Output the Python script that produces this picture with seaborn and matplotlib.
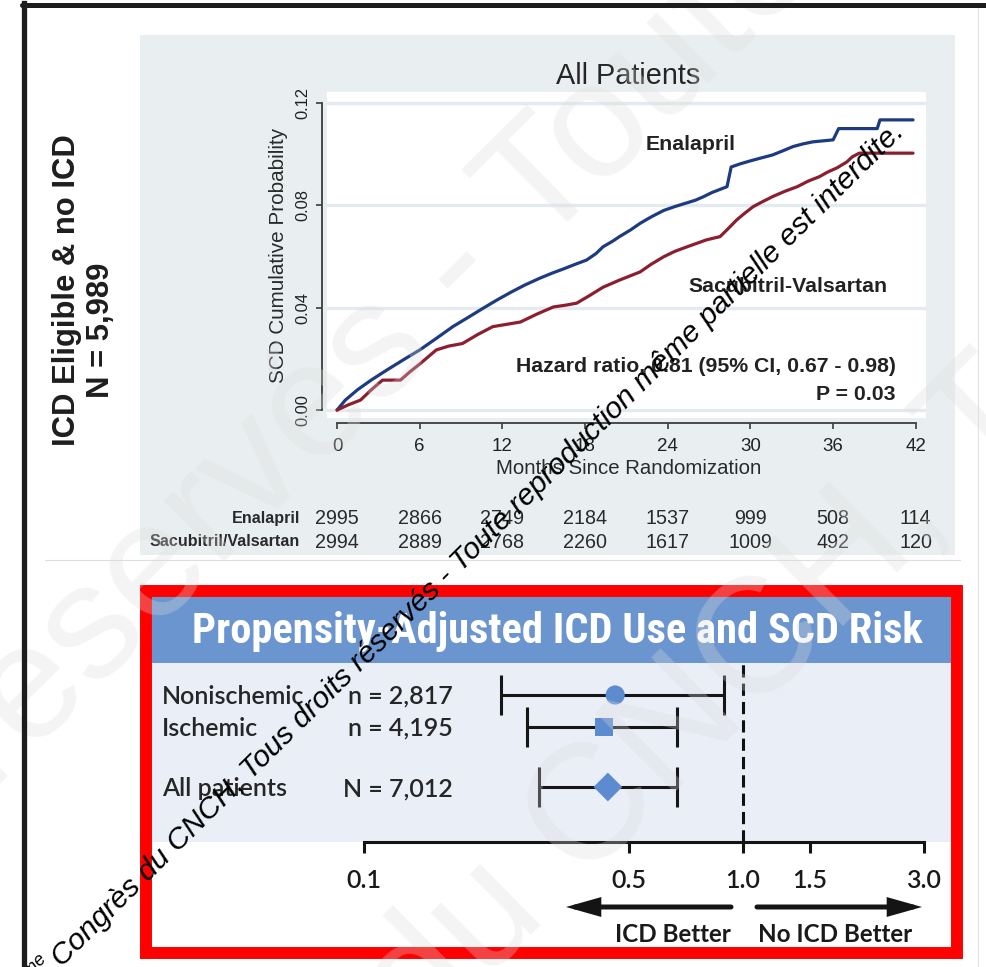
import numpy as np
import pandas as pd
import matplotlib
matplotlib.use("Agg")
import matplotlib.pyplot as plt
import matplotlib.transforms as mtransforms
from matplotlib.patches import Rectangle, FancyArrowPatch
from matplotlib.lines import Line2D
from matplotlib.ticker import NullLocator
from matplotlib import font_manager as fm
import seaborn as sns

# ---------------------------------------------------------------- data
# Kaplan-Meier cumulative probability of sudden cardiac death
months_enal = [0, 0.6, 1.5, 2.5, 3.6, 4.8, 6.0, 7.2, 8.4, 9.6, 10.6, 11.6, 12.6,
               13.6, 14.7, 15.6, 16.5, 17.3, 18.1, 18.8, 19.3, 20.0, 20.5, 21.3,
               22.0, 22.8, 23.7, 24.5, 25.4, 26.0, 26.6, 27.2, 28.3, 28.6, 29.3,
               30.2, 30.9, 31.6, 32.3, 33.1, 33.8, 34.5, 36.0, 36.4, 39.2, 39.4, 41.8]
cumprob_enal = [0, 0.0039, 0.0080, 0.0118, 0.0156, 0.0196, 0.0235, 0.0280, 0.0326,
                0.0365, 0.0398, 0.0430, 0.0460, 0.0488, 0.0515, 0.0535, 0.0553,
                0.0570, 0.0586, 0.0612, 0.0638, 0.0660, 0.0678, 0.0704, 0.0730,
                0.0755, 0.0780, 0.0795, 0.0810, 0.0820, 0.0834, 0.0850, 0.0873,
                0.0950, 0.0963, 0.0977, 0.0987, 0.0997, 0.1012, 0.1030, 0.1040,
                0.1048, 0.1056, 0.1100, 0.1100, 0.1134, 0.1134]

months_sv = [0, 0.8, 1.7, 2.5, 3.3, 4.6, 5.3, 6.0, 7.2, 8.1, 9.1, 10.2, 11.3, 12.3,
             13.3, 14.5, 15.7, 16.6, 17.4, 18.4, 19.3, 20.5, 21.3, 22.0, 22.8,
             23.7, 24.5, 25.4, 26.8, 27.8, 28.4, 29.0, 29.6, 30.2, 30.9, 31.6,
             32.5, 33.4, 34.2, 35.0, 35.6, 36.3, 37.0, 37.4, 37.9, 41.8]
cumprob_sv = [0, 0.0020, 0.0039, 0.0080, 0.0117, 0.0117, 0.0150, 0.0180, 0.0235,
              0.0250, 0.0260, 0.0295, 0.0326, 0.0335, 0.0344, 0.0375, 0.0403,
              0.0410, 0.0418, 0.0450, 0.0480, 0.0508, 0.0525, 0.0540, 0.0570,
              0.0599, 0.0620, 0.0638, 0.0665, 0.0678, 0.0710, 0.0743, 0.0770,
              0.0795, 0.0815, 0.0834, 0.0855, 0.0873, 0.0895, 0.0912, 0.0930,
              0.0947, 0.0970, 0.0990, 0.1004, 0.1004]

arm_names = ["Enalapril", "Sacubitril-Valsartan"]
risk_row_names = ["Enalapril", "Sacubitril/Valsartan"]
risk_months = [0, 6, 12, 18, 24, 30, 36, 42]
risk_enal = [2995, 2866, 2749, 2184, 1537, 999, 508, 114]
risk_sv = [2994, 2889, 2768, 2260, 1617, 1009, 492, 120]
km_yticks = [0.00, 0.04, 0.08, 0.12]

# propensity-adjusted hazard ratios, ICD vs no ICD
groups = ["Nonischemic", "Ischemic", "All patients"]
group_n = ["n = 2,817", "n = 4,195", "N = 7,012"]
hr = [0.46, 0.43, 0.44]
hr_lo = [0.23, 0.27, 0.29]
hr_hi = [0.89, 0.67, 0.67]
forest_ticks = [0.1, 0.5, 1.0, 1.5, 3.0]
forest_ticklabels = ["0.1", "0.5", "1.0", "1.5", "3.0"]

# ---------------------------------------------------------------- fonts
_avail = {f.name for f in fm.fontManager.ttflist}


def pick(*names):
    for n in names:
        if n in _avail:
            return n
    return "DejaVu Sans"


ARIAL = pick("Liberation Sans", "Arimo")
HUMAN = pick("Lato", "Open Sans", "Noto Sans")


def condensed_bold():
    """A bold, narrow sans face for the banner, if one is installed."""
    for fam in ("Liberation Sans Narrow", "Roboto Condensed", "Open Sans Condensed",
                "Noto Sans Condensed", "DejaVu Sans Condensed"):
        if fam in _avail:
            return fm.FontProperties(family=fam, weight="bold")
    best = None
    for f in fm.fontManager.ttflist:
        if f.style != "normal" or f.stretch in ("normal", 500):
            continue
        if f.name not in ("Noto Sans", "Open Sans", "DejaVu Sans", "Roboto", "Lato",
                          "Inter", "Liberation Sans"):
            continue
        w = f.weight if isinstance(f.weight, int) else {"bold": 700}.get(f.weight, 400)
        score = abs(w - 700)
        if best is None or score < best[0]:
            best = (score, f.fname)
    if best is not None:
        return fm.FontProperties(fname=best[1])
    return fm.FontProperties(family=ARIAL, weight="bold")


BANNER = condensed_bold()

sns.set_theme(style="white")
plt.rcParams["font.family"] = [ARIAL, "DejaVu Sans"]

# ---------------------------------------------------------------- canvas
W, H = 986, 967
fig = plt.figure(figsize=(W / 100, H / 100), dpi=100)
fig.patch.set_facecolor("white")
renderer = fig.canvas.get_renderer()


def X(px):
    return px / W


def Y(py):
    return 1 - py / H


def text_width(s, size, **kw):
    t = fig.text(0, 0, s, fontsize=size, **kw)
    w = t.get_window_extent(renderer=renderer).width
    t.remove()
    return w


def fit_size(s, width_px, **kw):
    if "fontproperties" in kw:
        fp = kw.pop("fontproperties").copy()
        fp.set_size(20)
        t = fig.text(0, 0, s, fontproperties=fp, **kw)
        w = t.get_window_extent(renderer=renderer).width
        t.remove()
        return 20.0 * width_px / w
    return 20.0 * width_px / text_width(s, 20, **kw)


def put(px, py, s, **kw):
    return fig.text(X(px), Y(py), s, **kw)


# page frame
fig.add_artist(Line2D([X(23.5), X(23.5)], [Y(970), Y(2.5)], lw=3.8, color="#1c1c1c",
                      transform=fig.transFigure, zorder=40, solid_capstyle="projecting"))
fig.add_artist(Line2D([X(21.5), X(990)], [Y(4.8), Y(4.8)], lw=3.6, color="#1c1c1c",
                      transform=fig.transFigure, zorder=40))
fig.add_artist(Line2D([X(978), X(978)], [Y(8), Y(967)], lw=0.8, color="#e2e2e2",
                      transform=fig.transFigure, zorder=-6))
fig.add_artist(Line2D([X(45), X(960)], [Y(560), Y(560)], lw=0.8, color="#dedede",
                      transform=fig.transFigure, zorder=-6))

# ---------------------------------------------------------------- KM panel
fig.add_artist(Rectangle((X(140), Y(555)), (955 - 140) / W, (555 - 35) / H,
                         transform=fig.transFigure, facecolor="#e9eff1",
                         edgecolor="none", zorder=-5))

ax1 = fig.add_axes([X(327), Y(418), (926 - 327) / W, (418 - 92) / H])
ax1.set_facecolor("white")
km = pd.concat([
    pd.DataFrame({"month": months_enal, "prob": cumprob_enal, "arm": arm_names[0]}),
    pd.DataFrame({"month": months_sv, "prob": cumprob_sv, "arm": arm_names[1]}),
], ignore_index=True)
arm_colors = {arm_names[0]: "#1d3b80", arm_names[1]: "#8c1f2f"}
sns.lineplot(data=km, x="month", y="prob", hue="arm", palette=arm_colors,
             estimator=None, sort=False, linewidth=2.3, legend=False, ax=ax1,
             zorder=3)
ax1.set_xlim(-0.73, 42.74)
ax1.set_ylim(-0.0031, 0.1243)
ax1.set_xticks(risk_months)
ax1.set_yticks(km_yticks)
ax1.set_xlabel("")
ax1.set_ylabel("")
ax1.yaxis.grid(True, color="#e4ebee", linewidth=2.4)
ax1.xaxis.grid(False)
ax1.set_axisbelow(True)
sns.despine(ax=ax1, offset=3.6, trim=True)
for s in ("left", "bottom"):
    ax1.spines[s].set_color("#3c3c3c")
    ax1.spines[s].set_linewidth(1.3)

ax1.tick_params(axis="both", which="major", bottom=True, left=True, length=4.5,
                width=1.2, color="#3c3c3c", labelcolor="#222222")
ax1.tick_params(axis="x", pad=6, labelsize=13.5)
ax1.tick_params(axis="y", pad=4, labelsize=fit_size("0.12", 32))
ax1.set_yticks(km_yticks)
ax1.set_yticklabels([f"{v:.2f}" for v in km_yticks], rotation=90, va="center")

put(628, 73, "All Patients", ha="center", va="center_baseline",
    fontsize=fit_size("All Patients", 144), color="#262626")
ylab = "SCD Cumulative Probability"
put(276, 255, ylab, rotation=90, rotation_mode="anchor", ha="center",
    va="center_baseline", fontsize=fit_size(ylab, 254), color="#2a2a2a")
xlab = "Months Since Randomization"
put(629, 467, xlab, ha="center", va="center_baseline",
    fontsize=fit_size(xlab, 264), color="#2a2a2a")

bold_fs = fit_size("Hazard ratio, 0.81 (95% CI, 0.67 - 0.98)", 380, weight="bold")
put(691, 143, arm_names[0], ha="center", va="center_baseline", fontsize=bold_fs,
    weight="bold", color="#222222")
put(788, 285, arm_names[1], ha="center", va="center_baseline", fontsize=bold_fs,
    weight="bold", color="#222222")
put(896, 365, "Hazard ratio, 0.81 (95% CI, 0.67 - 0.98)", ha="right",
    va="center_baseline", fontsize=bold_fs, weight="bold", color="#222222")
put(896, 393, "P = 0.03", ha="right", va="center_baseline", fontsize=bold_fs,
    weight="bold", color="#222222")

# numbers at risk, aligned with the month ticks
risk_fs = fit_size("2994", 44)
lab_fs = fit_size(risk_row_names[1], 149, weight="bold")
blend = mtransforms.blended_transform_factory(ax1.transData, fig.transFigure)
for row_y, name, counts in ((517, risk_row_names[0], risk_enal),
                            (540, risk_row_names[1], risk_sv)):
    put(300, row_y, name, ha="right", va="center_baseline", fontsize=lab_fs,
        weight="bold", color="#2a2a2a")
    for m, c in zip(risk_months, counts):
        ax1.text(m, Y(row_y), f"{c}", transform=blend, ha="center",
                 va="center_baseline", fontsize=risk_fs, color="#2a2a2a", clip_on=False)

# side label
side_fs = fit_size("ICD Eligible & no ICD", 311, weight="bold")
put(64, 290, "ICD Eligible & no ICD", rotation=90, rotation_mode="anchor",
    ha="center", va="center_baseline", fontsize=side_fs, weight="bold", color="#1e1e1e")
put(97, 330, "N = 5,989", rotation=90, rotation_mode="anchor",
    ha="center", va="center_baseline", fontsize=side_fs, weight="bold", color="#1e1e1e")

# ---------------------------------------------------------------- forest panel
fig.add_artist(Rectangle((X(152), Y(663)), (951 - 152) / W, (663 - 597) / H,
                         transform=fig.transFigure, facecolor="#6b95cf",
                         edgecolor="none", zorder=2))
head = "Propensity-Adjusted ICD Use and SCD Risk"
banner_fp = BANNER.copy()
banner_fp.set_size(fit_size(head, 729, fontproperties=BANNER))
put(557, 627, head, ha="center", va="center_baseline", fontproperties=banner_fp,
    color="white", zorder=5)

ax2 = fig.add_axes([X(152), Y(842), (951 - 152) / W, (842 - 663) / H])
ax2.set_facecolor("#e9eef7")
ax2.set_xscale("log")
row_pos = [0.0, 1.0, 2.875]
ax2.axvline(1.0, color="#111111", lw=2.2, ls=(0, (4, 2)), zorder=2)
ax2.errorbar(hr, row_pos, xerr=[np.subtract(hr, hr_lo), np.subtract(hr_hi, hr)],
             fmt="none", ecolor="#161616", elinewidth=2.2, capsize=14.4,
             capthick=2.2, zorder=3)
forest = pd.DataFrame({"group": groups, "hr": hr, "row": row_pos})
sns.scatterplot(data=forest, x="hr", y="row", style="group", size="group",
                markers={groups[0]: "o", groups[1]: "s", groups[2]: "D"},
                sizes={groups[0]: 190, groups[1]: 180, groups[2]: 215},
                color="#5d8bd0", linewidth=0, legend=False, ax=ax2, zorder=4)
ax2.set_xlim(10 ** ((152 - 743) / 379), 10 ** ((951 - 743) / 379))
ax2.set_ylim(4.594, -1.0)
ax2.set_xlabel("")
ax2.set_ylabel("")
ax2.set_yticks([])
ax2.set_xticks(forest_ticks)
ax2.xaxis.set_minor_locator(NullLocator())
ft_fs = fit_size("0.5", 35, family=HUMAN, weight="semibold")
ax2.set_xticklabels(forest_ticklabels, family=HUMAN, weight="semibold",
                    fontsize=ft_fs, color="#1a1a1a")
for s in ("top", "right", "left"):
    ax2.spines[s].set_visible(False)
ax2.spines["bottom"].set_bounds(0.1, 3.0)
ax2.spines["bottom"].set_linewidth(2.2)
ax2.spines["bottom"].set_color("#141414")
ax2.tick_params(axis="x", which="major", bottom=True, direction="out", length=8,
                width=2.2, color="#141414", pad=11.5)

row_fs = fit_size(groups[0], 143, family=HUMAN, weight="semibold")
for gy, g, n in zip((694, 726, 787), groups, group_n):
    put(162, gy, g, ha="left", va="center_baseline", fontsize=row_fs,
        family=HUMAN, weight="semibold", color="#262626", zorder=5)
    put(453, gy, n, ha="right", va="center_baseline", fontsize=row_fs,
        family=HUMAN, weight="semibold", color="#262626", zorder=5)

arrow_style = "-|>,head_length=0.85,head_width=0.24"
for x0, x1 in ((731, 566), (757, 922)):
    fig.add_artist(FancyArrowPatch((X(x0), Y(907)), (X(x1), Y(907)),
                                   transform=fig.transFigure, arrowstyle=arrow_style,
                                   mutation_scale=20, lw=3.6, color="#141414",
                                   shrinkA=0, shrinkB=0, joinstyle="miter", zorder=5))
lbl_fs = fit_size("ICD Better", 116, family=HUMAN, weight="bold")
put(673, 932, "ICD Better", ha="center", va="center_baseline", fontsize=lbl_fs,
    family=HUMAN, weight="bold", color="#1a1a1a", zorder=5)
put(835, 932, "No ICD Better", ha="center", va="center_baseline", fontsize=lbl_fs,
    family=HUMAN, weight="bold", color="#1a1a1a", zorder=5)

fig.add_artist(Rectangle((X(146), Y(952.5)), (956.5 - 146) / W, (952.5 - 591) / H,
                         transform=fig.transFigure, fill=False, edgecolor="#ff0000",
                         lw=8.6, joinstyle="miter", zorder=8))

# ---------------------------------------------------------------- watermarks
notice = "Congrès du CNCH, Tous droits réservés - Toute reproduction même partielle est interdite."
ang = 44.7
rad = np.deg2rad(ang)
d = np.array([np.cos(rad), -np.sin(rad)])     # along the text, screen pixels (y down)
up = np.array([-np.sin(rad), -np.cos(rad)])    # text "up"

# large pale copies of the notice behind everything readable
big_fs = 118
for anchor, prefix in (((-10, 794), "Congrès du CNCH, Tous droits "),
                       ((420, 1045), "Congrès ")):
    start = np.array(anchor) - text_width(prefix, big_fs) * d
    put(start[0], start[1], notice, rotation=ang, rotation_mode="anchor", ha="left",
        va="baseline", fontsize=big_fs, color="#dcdcdc", alpha=0.3, zorder=30)

wm_fs = fit_size(notice, 1186, style="italic")
put(62, 968, notice, rotation=ang, rotation_mode="anchor", ha="left", va="baseline",
    fontsize=wm_fs, style="italic", color="black", zorder=31)
sup = np.array([62, 968]) - 4 * d + 0.55 * wm_fs * 1.39 * up
put(sup[0], sup[1], "ème", rotation=ang, rotation_mode="anchor", ha="right",
    va="baseline", fontsize=wm_fs * 0.6, style="italic", color="black", zorder=31)

fig.savefig("out.png", dpi=100, facecolor="white")
